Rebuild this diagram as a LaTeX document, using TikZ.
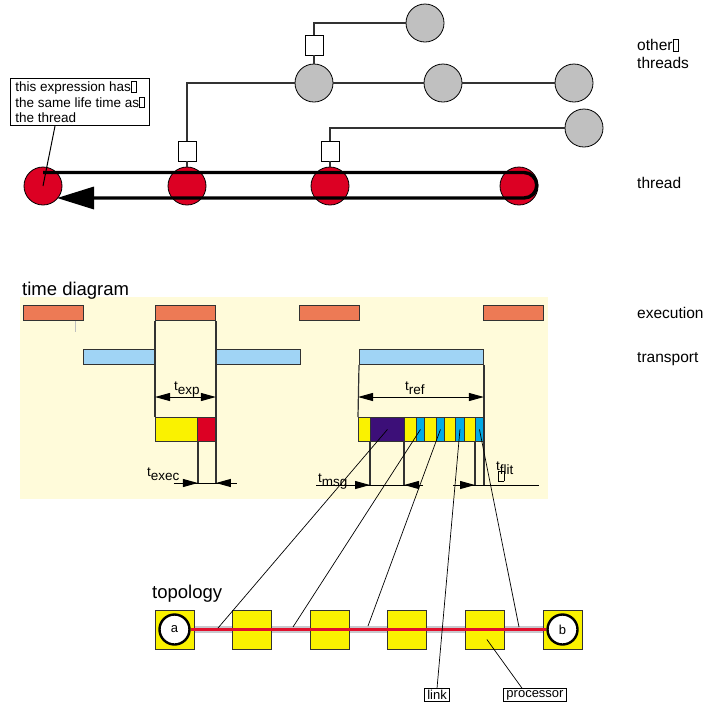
\documentclass[tikz,border=0pt]{standalone}
\usepackage{fontspec}
\setmainfont{Liberation Sans}
\usetikzlibrary{arrows.meta, positioning, calc, backgrounds}
\definecolor{threadred}{RGB}{220,0,35}
\definecolor{othergray}{RGB}{192,192,192}
\definecolor{execorange}{RGB}{237,122,85}
\definecolor{transblue}{RGB}{160,212,245}
\definecolor{paneyellow}{RGB}{255,251,218}
\definecolor{cellyellow}{RGB}{250,242,0}
\definecolor{cellpurple}{RGB}{60,15,120}
\definecolor{cellblue}{RGB}{0,170,230}
\definecolor{linkgray}{RGB}{200,200,205}
\definecolor{linkred}{RGB}{225,15,45}
\definecolor{linegray}{RGB}{50,50,50}
\newcommand{\missbox}{{\fboxsep=0pt\fboxrule=0.6pt\framebox[0.42em]{\rule{0pt}{0.7em}}}}
\newcommand{\tsub}[2]{#1\raisebox{-0.3em}{#2}}
\tikzset{
  lbl/.style={font=\fontsize{15.5}{18}\selectfont, anchor=base west, inner sep=0pt, align=left},
  ttl/.style={font=\fontsize{18.5}{22}\selectfont, anchor=base west, inner sep=0pt},
  tlbl/.style={font=\fontsize{13.5}{15}\selectfont, anchor=base west, inner sep=0pt, align=left},
  thr/.style={circle, draw=black, line width=0.8pt, fill=threadred,
    minimum size=38pt, inner sep=0pt},
  oth/.style={thr, fill=othergray},
  gate/.style={rectangle, draw=black, line width=0.8pt, fill=white,
    minimum width=18pt, minimum height=20pt, inner sep=0pt},
  conn/.style={draw=linegray, line width=1.2pt},
  loop/.style={line width=3.4pt, -{Triangle[length=37pt,width=22pt]}},
  note/.style={rectangle, draw=black, line width=0.9pt, fill=white, align=left,
    font=\fontsize{13.5}{15.5}\selectfont, inner xsep=5pt, inner ysep=3pt,
    anchor=north west},
  bar/.style={rectangle, draw=linegray, line width=0.9pt, minimum height=15pt,
    inner sep=0pt, anchor=north west},
  exe/.style={bar, fill=execorange},
  trn/.style={bar, fill=transblue},
  cell/.style={bar, minimum height=24pt, draw=black!80},
  tick/.style={draw=linegray, line width=1.2pt},
  span/.style={draw=black, line width=1pt,
    {Triangle[length=15pt,width=8pt]}-{Triangle[length=15pt,width=8pt]}},
  push/.style={draw=black, line width=1pt, -{Triangle[length=15pt,width=8pt]}},
  lead/.style={draw=black, line width=0.7pt},
  proc/.style={rectangle, draw=linegray, line width=0.9pt, fill=cellyellow,
    minimum size=39pt, inner sep=0pt},
  endpt/.style={circle, draw=black, line width=2.4pt, fill=white,
    minimum size=30pt, inner sep=0pt, font=\fontsize{13}{15}\selectfont},
  band/.style={draw=linkgray, line width=7pt},
  redlink/.style={draw=linkred, line width=3pt},
  tag/.style={rectangle, draw=black, line width=0.8pt, fill=white,
    inner xsep=3pt, inner ysep=1.5pt, font=\fontsize{13}{15}\selectfont}
}
\begin{document}
\begin{tikzpicture}[x=1pt, y=-1pt]
  \useasboundingbox (0,0) rectangle (706,705);

  % threads
  \node[oth] (o1) at (425,23) {};
  \node[oth] (o2) at (314,83) {};
  \node[oth] (o3) at (443,83) {};
  \node[oth] (o4) at (574,83) {};
  \node[oth] (o5) at (584,128) {};
  \node[gate] (g1) at (314,45) {};
  \node[gate] (g2) at (187,151) {};
  \node[gate] (g3) at (330,151) {};
  \node[thr] (r0) at (43,186) {};
  \node[thr] (r1) at (187,186) {};
  \node[thr] (r2) at (330,186) {};
  \node[thr] (r3) at (519,186) {};

  \draw[conn] (o2) -- (g1);
  \draw[conn] (g1.north) |- (o1);
  \draw[conn] (g2.north) |- (o2);
  \draw[conn] (o2) -- (o3);
  \draw[conn] (o3) -- (o4);
  \draw[conn] (g2) -- (r1);
  \draw[conn] (g3.north) |- (o5);
  \draw[conn] (g3) -- (r2);

  \draw[loop] ($(r0.center)+(0,-13.5)$) -- ($(r3.center)+(5,-13.5)$)
    arc[start angle=90, end angle=-90, radius=12.75pt] -- ($(r0.center)+(14,12)$);

  \node[note] (note) at (10,78) {this expression has\missbox\\the same life time as\missbox\\the thread};
  \draw[draw=black, line width=1pt] ($(note.south west)+(45,0)$) -- (r0.center);

  \node[lbl, anchor=north west] (lother) at (637,39) {other\missbox\\threads};
  \node[lbl] (lthr) at (637,188) {thread};

  % time diagram
  \fill[paneyellow] (20,297) rectangle (548,499);
  \node[ttl] (ltime) at (22,295) {time diagram};

  \node[exe, minimum width=60pt] (e1) at (23,305) {};
  \node[exe, minimum width=60pt] (e2) at (155,305) {};
  \node[exe, minimum width=60pt] (e3) at (299,305) {};
  \node[exe, minimum width=60pt] (e4) at (483,305) {};
  \node[trn, minimum width=72pt] (t1) at (83,349) {};
  \node[trn, minimum width=85pt] (t2) at (215,349) {};
  \node[trn, minimum width=124pt] (t3) at (359,349) {};
  \draw[draw=black!25, line width=1pt] ($(e1.south west)+(52,0)$) -- ++(0,11);

  \node[lbl] (lexe) at (637,318) {execution};
  \node[lbl] (ltrn) at (637,362) {transport};

  \node[cell, minimum width=42pt, fill=cellyellow] (y1) at (155,417) {};
  \node[cell, minimum width=18pt, fill=threadred] (y2) at (197,417) {};
  \foreach \x/\w/\c [count=\i] in {358/12/cellyellow, 370/34/cellpurple,
      404/12/cellyellow, 416/8/cellblue, 424/12/cellyellow, 436/8/cellblue,
      444/11/cellyellow, 455/9/cellblue, 464/11/cellyellow, 475/8/cellblue}
    \node[cell, minimum width=\w pt, fill=\c] (m\i) at (\x,417) {};

  \coordinate (qspan) at (0,397);
  \coordinate (qexec) at (0,483);
  \coordinate (qmsg) at (0,485);

  \draw[tick] (e2.south west) -- (y1.north west);
  \draw[tick] (e2.south east) -- (y2.south east |- qexec);
  \draw[tick] (y1.south east) -- (y1.south east |- qexec);
  \draw[tick] (t3.south west) -- (m1.north west);
  \draw[tick] (t3.south east) -- (t3.south east |- qmsg);
  \draw[tick] (m2.south west) -- (m2.south west |- qmsg);
  \draw[tick] (m3.south west) -- (m3.south west |- qmsg);
  \draw[tick] (m10.south west) -- (m10.south west |- qmsg);

  \draw[span] (y1.north west |- qspan) -- (y2.north east |- qspan);
  \draw[span] (m1.north west |- qspan) -- (m10.north east |- qspan);
  \node[tlbl] (lexp) at (174,390) {\tsub{t}{exp}};
  \node[tlbl] (lref) at (405,390) {\tsub{t}{ref}};

  \draw[lead, line width=1pt] ($(y1.south east |- qexec)+(-24,0)$) -- ($(y2.south east |- qexec)+(21,0)$);
  \draw[push] ($(y1.south east |- qexec)+(-24,0)$) -- (y1.south east |- qexec);
  \draw[push] ($(y2.south east |- qexec)+(21,0)$) -- (y2.south east |- qexec);
  \node[tlbl] (lexec) at (147,476) {\tsub{t}{exec}};

  \draw[lead, line width=1pt] ($(m2.south west |- qmsg)+(-54,0)$) -- ($(m3.south west |- qmsg)+(19,0)$);
  \draw[push] ($(m2.south west |- qmsg)+(-54,0)$) -- (m2.south west |- qmsg);
  \draw[push] ($(m3.south west |- qmsg)+(19,0)$) -- (m3.south west |- qmsg);
  \node[tlbl] (lmsg) at (318,482) {\tsub{t}{msg}};

  \draw[lead, line width=1pt] ($(m10.south west |- qmsg)+(-22,0)$) -- ($(m10.south east |- qmsg)+(55,0)$);
  \draw[push] ($(m10.south west |- qmsg)+(-22,0)$) -- (m10.south west |- qmsg);
  \node[tlbl] (lflit) at (496,481) {\tsub{t}{flit}\\[-4pt]\,\missbox};

  % topology
  \node[ttl] (ltopo) at (152,598) {topology};
  \foreach \i in {0,...,5}
    \node[proc] (p\i) at ({174.5+77.6*\i},629.5) {};
  \begin{scope}[on background layer]
    \draw[band] (p0.center) -- (p5.center);
  \end{scope}
  \node[endpt] (a) at (p0) {a};
  \node[endpt] (b) at (p5) {b};
  \draw[redlink] (a) -- (b);

  \node[tag] (lnk) at (437,695) {link};
  \node[tag] (prc) at (535,695) {processor};

  \coordinate (k1) at (218,628);
  \coordinate (k2) at (293,627);
  \coordinate (k3) at (368,626);
  \coordinate (k5) at (519,627);
  \draw[lead] (m2.center) -- (k1);
  \draw[lead] (m4.center) -- (k2);
  \draw[lead] (m6.center) -- (k3);
  \draw[lead] (m8.center) -- (lnk.north);
  \draw[lead] (m10.center) -- (k5);
  \draw[lead] ($(p4.center)+(2,10)$) -- ($(prc.north west)+(19,0)$);
\end{tikzpicture}
\end{document}
